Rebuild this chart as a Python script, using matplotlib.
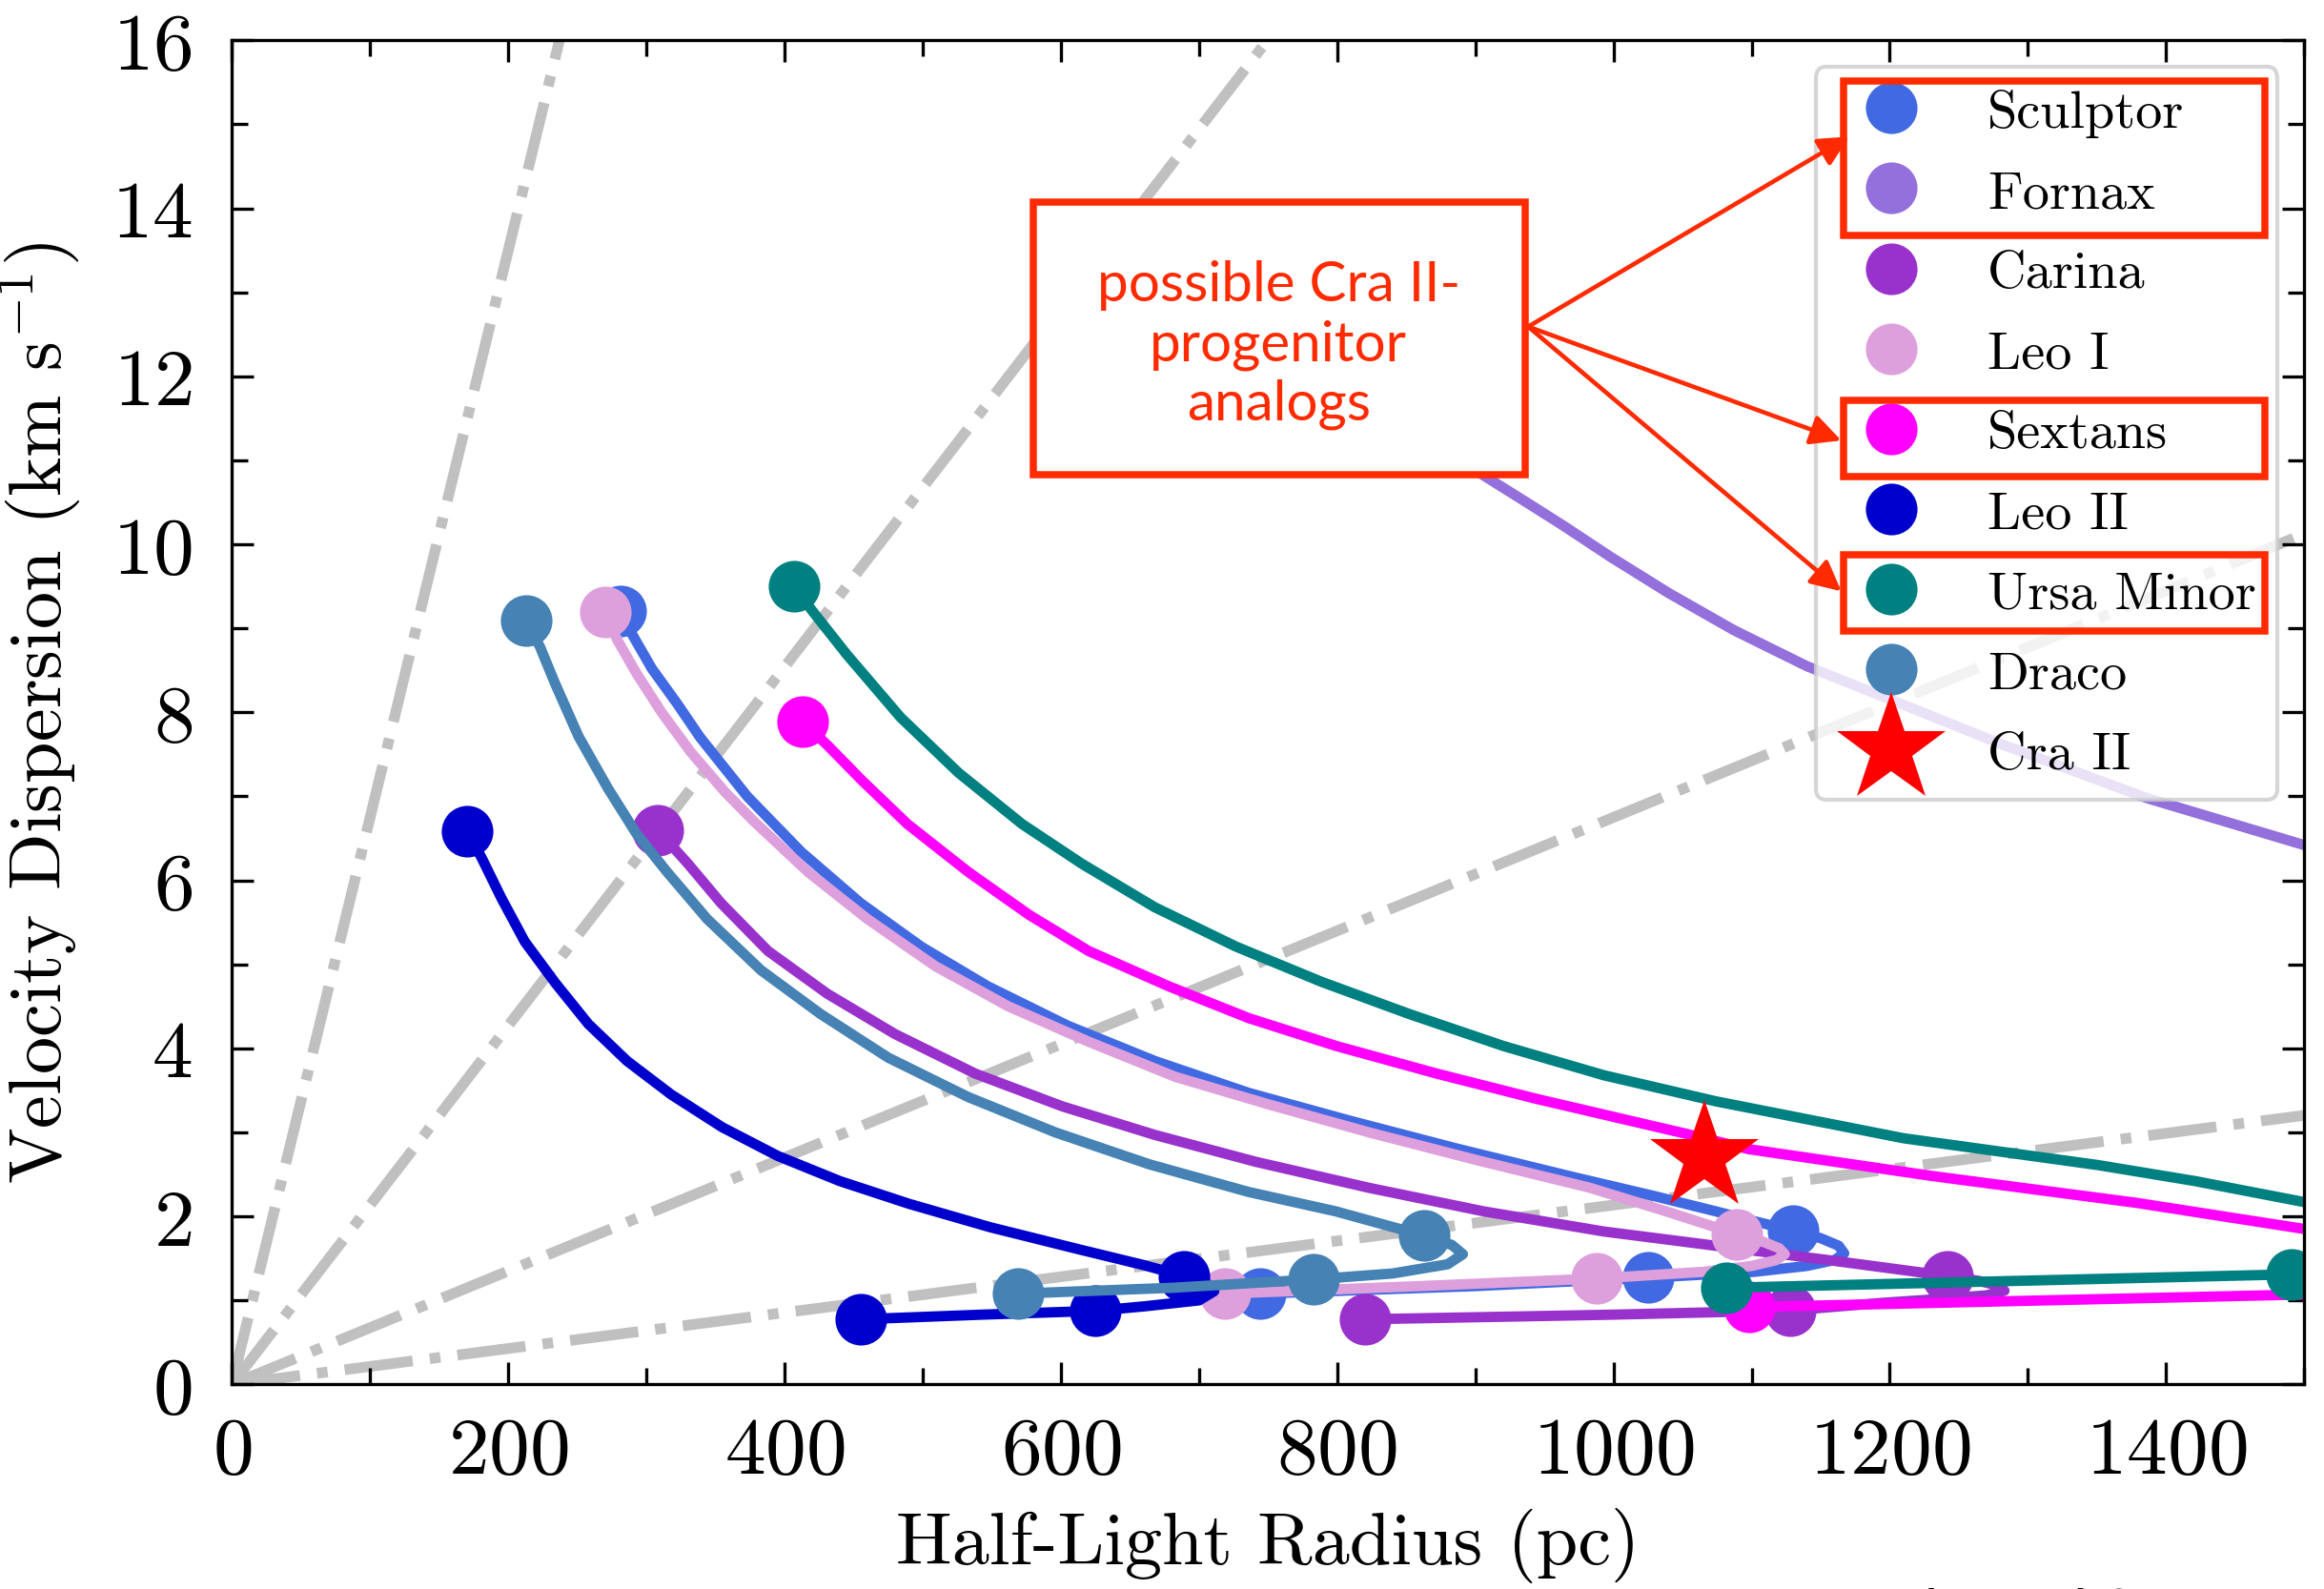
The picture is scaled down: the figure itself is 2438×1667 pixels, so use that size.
import matplotlib
matplotlib.use("Agg")
import matplotlib.pyplot as plt
from matplotlib.lines import Line2D
from matplotlib.patches import Rectangle, FancyArrowPatch

plt.rcParams.update({
    "font.family": "serif",
    "font.serif": ["cmr10"],
    "mathtext.fontset": "cm",
    "axes.formatter.use_mathtext": True,
    "axes.unicode_minus": False,
})

# Tidal tracks: half-light radius (pc) vs. velocity dispersion (km/s)
names = ["Sculptor", "Fornax", "Carina", "Leo I", "Sextans", "Leo II", "Ursa Minor", "Draco"]
colors = ["royalblue", "mediumpurple", "darkorchid", "plum", "magenta", "mediumblue", "teal", "steelblue"]

sculptor_r = [281, 290, 304, 322, 339, 373, 412, 455, 499, 547, 605, 668, 736, 809, 886, 968, 1030, 1074, 1105, 1130,
              1150, 1163, 1167, 1160, 1140, 1102, 1025, 900, 744]
sculptor_s = [9.21, 8.92, 8.52, 8.11, 7.70, 7.00, 6.34, 5.73, 5.21, 4.74, 4.27, 3.85, 3.47, 3.14, 2.81, 2.48, 2.24, 2.06, 1.93, 1.83,
              1.74, 1.65, 1.56, 1.48, 1.41, 1.34, 1.27, 1.17, 1.08]
sculptor_marks = [0, 19, 26, 28]

fornax_r = [860, 908, 940, 964, 998, 1040, 1087, 1140, 1210, 1281, 1386, 1500]
fornax_s = [11.30, 10.80, 10.47, 10.22, 9.85, 9.42, 8.98, 8.55, 8.09, 7.62, 6.98, 6.42]
fornax_marks = []

carina_r = [308, 318, 330, 354, 388, 431, 480, 538, 601, 668, 741, 823, 906, 993, 1074, 1160, 1242, 1265, 1280, 1283,
            1270, 1230, 1194, 1128, 1000, 936, 820]
carina_s = [6.60, 6.42, 6.20, 5.73, 5.16, 4.65, 4.17, 3.70, 3.31, 2.97, 2.65, 2.34, 2.06, 1.82, 1.65, 1.47, 1.29, 1.23, 1.17, 1.115,
            1.06, 1.01, 0.97, 0.88, 0.83, 0.81, 0.775]
carina_marks = [0, 16, 23, 26]

leo1_r = [270, 279, 293, 311, 332, 357, 378, 417, 460, 509, 562, 620, 683, 751, 823, 901, 983, 1040, 1074, 1089,
          1108, 1120, 1124, 1118, 1100, 1065, 988, 860, 719]
leo1_s = [9.19, 8.86, 8.46, 8.00, 7.53, 7.05, 6.70, 6.10, 5.54, 4.98, 4.50, 4.08, 3.66, 3.33, 3.00, 2.67, 2.34, 2.05, 1.87, 1.78,
          1.70, 1.62, 1.55, 1.48, 1.41, 1.34, 1.26, 1.17, 1.08]
leo1_marks = [0, 19, 26, 28]

sextans_r = [413, 431, 456, 489, 533, 577, 620, 678, 736, 799, 872, 944, 1017, 1056, 1098, 1231, 1379, 1500, 1550, 1580,
             1550, 1500, 1098]
sextans_s = [7.89, 7.61, 7.19, 6.67, 6.10, 5.59, 5.16, 4.74, 4.36, 4.03, 3.70, 3.40, 3.12, 2.97, 2.80, 2.48, 2.16, 1.85, 1.72, 1.30,
             1.09, 1.07, 0.92]
sextans_marks = [0, 22]

leo2_r = [170, 181, 195, 212, 234, 258, 286, 318, 355, 395, 440, 490, 549, 615, 660, 689, 705, 711, 700, 661,
          625, 543, 455]
leo2_s = [6.59, 6.26, 5.79, 5.27, 4.78, 4.29, 3.85, 3.45, 3.06, 2.72, 2.42, 2.15, 1.87, 1.60, 1.42, 1.29, 1.21, 1.11, 1.00, 0.93,
          0.875, 0.83, 0.775]
leo2_marks = [0, 15, 20, 22]

umi_r = [407, 420, 445, 484, 526, 572, 615, 668, 727, 789, 852, 920, 993, 1074, 1210, 1351, 1421, 1500, 1545, 1575,
         1545, 1491, 1082]
umi_s = [9.50, 9.21, 8.69, 7.94, 7.28, 6.67, 6.20, 5.68, 5.21, 4.79, 4.41, 4.03, 3.68, 3.37, 2.93, 2.61, 2.42, 2.17, 2.00, 1.60,
         1.32, 1.31, 1.15]
umi_marks = [0, 21, 22]

draco_r = [213, 223, 234, 251, 272, 293, 315, 344, 383, 426, 475, 533, 596, 664, 736, 799, 863, 883, 891, 880,
           840, 783, 681, 569]
draco_s = [9.09, 8.78, 8.34, 7.71, 7.10, 6.55, 6.10, 5.54, 4.93, 4.41, 3.89, 3.42, 3.00, 2.62, 2.29, 2.06, 1.77, 1.66, 1.55, 1.43,
           1.32, 1.25, 1.15, 1.08]
draco_marks = [0, 16, 21, 23]

# Crater II
cra2_r = 1066
cra2_s = 2.70

# slopes of the constant-density reference lines through the origin
ref_slopes = [0.0675, 0.02135, 0.00675, 0.002135]

tracks = [
    (sculptor_r, sculptor_s, sculptor_marks),
    (fornax_r, fornax_s, fornax_marks),
    (carina_r, carina_s, carina_marks),
    (leo1_r, leo1_s, leo1_marks),
    (sextans_r, sextans_s, sextans_marks),
    (leo2_r, leo2_s, leo2_marks),
    (umi_r, umi_s, umi_marks),
    (draco_r, draco_s, draco_marks),
]

fig = plt.figure(figsize=(2438 / 300, 1668 / 300), dpi=300)
ax = fig.add_axes([0.0998, 0.1287, 0.8917, 0.8453])

for s in ref_slopes:
    ax.axline((0, 0), slope=s, color="silver", lw=2.7, ls="-.", zorder=1)

for (r, sig, marks), c in zip(tracks, colors):
    ax.plot(r, sig, color=c, lw=2.6, zorder=2, solid_capstyle="round", solid_joinstyle="round")
    if marks:
        ax.plot([r[i] for i in marks], [sig[i] for i in marks], ls="none",
                marker="o", ms=13, color=c, mec="none", zorder=2)

ax.plot([cra2_r], [cra2_s], ls="none", marker="*", ms=29, color="red", mec="none", zorder=4)

ax.set_xlim(0, 1500)
ax.set_ylim(0, 16)
ax.set_xticks(range(0, 1401, 200))
ax.set_xticks(range(0, 1501, 100), minor=True)
ax.set_yticks(range(0, 17, 2))
ax.set_yticks(range(0, 17, 1), minor=True)
ax.tick_params(which="both", direction="in", top=True, right=True, width=0.8)
ax.tick_params(which="major", length=5.5, labelsize=20.5)
ax.tick_params(which="minor", length=4)
ax.tick_params(axis="x", pad=8)
ax.tick_params(axis="y", pad=10)
ax.set_xlabel("Half-Light Radius (pc)", fontsize=18.8, labelpad=5)
ax.set_ylabel(r"Velocity Dispersion (km s$^{-1}$)", fontsize=18.8, labelpad=7)

handles = [Line2D([], [], ls="none", marker="o", ms=13, color=c, mec="none") for c in colors]
handles.append(Line2D([], [], ls="none", marker="*", ms=29, color="red", mec="none"))
leg = ax.legend(handles, names + ["Cra II"], loc="upper right", fontsize=13.5,
                numpoints=1, labelspacing=0.6, borderaxespad=0.5)

# highlight boxes around the candidate progenitors in the legend
red = "#ff2a00"
hl_boxes = [(0.7779, 0.855, 0.9701), (0.7779, 0.6752, 0.7323), (0.7779, 0.5605, 0.6172)]
for x0, y0, y1 in hl_boxes:
    ax.add_patch(Rectangle((x0, y0), 0.9811 - x0, y1 - y0, transform=ax.transAxes,
                           fill=False, ec=red, lw=1.8, zorder=7, clip_on=False))

# annotation box
ax.add_patch(Rectangle((0.3865, 0.6768), 0.6241 - 0.3865, 0.8797 - 0.6768, transform=ax.transAxes,
                       fc="white", ec=red, lw=1.8, zorder=6))
ax.text(0.505, 0.774, "possible Cra II-\nprogenitor\nanalogs", transform=ax.transAxes,
        ha="center", va="center", color=red, fontsize=14, family="Lato", zorder=7, linespacing=1.2)

start = (0.6255, 0.787)
for tip in [(0.7804, 0.9284), (0.7766, 0.7023), (0.7766, 0.5901)]:
    ax.add_patch(FancyArrowPatch(start, tip, transform=ax.transAxes, arrowstyle="-|>",
                                 mutation_scale=16, color=red, lw=1.1, zorder=7,
                                 shrinkA=0, shrinkB=0, clip_on=False))

fig.text(0.8023, 0.003, "Adapted from Errani et al. (2022)", ha="left", va="top",
         fontsize=15, family="Lato")

fig.savefig("out.png", dpi=300)
